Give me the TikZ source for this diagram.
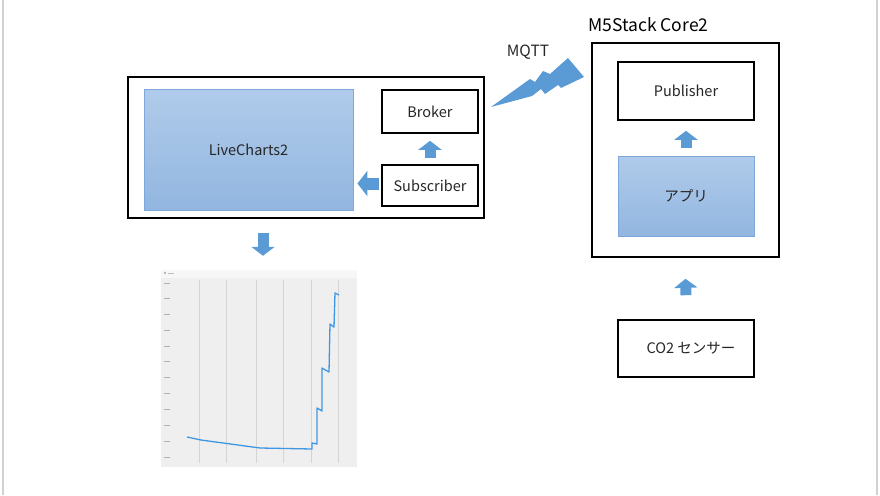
\documentclass[tikz,border=0pt]{standalone}
\usepackage{fontspec}
\setmainfont{Noto Sans CJK JP}
\usetikzlibrary{arrows.meta,calc,positioning}
\definecolor{topblue}{HTML}{B0CBEA}
\definecolor{botblue}{HTML}{92B6E0}
\definecolor{edgeblue}{HTML}{7EA8DA}
\definecolor{arrowblue}{HTML}{5B9BD5}
\definecolor{lineblue}{HTML}{3F97E2}
\definecolor{chartbg}{HTML}{EFEFEF}
\begin{document}
\begin{tikzpicture}[x=1pt,y=-1pt,>=Stealth,
  box/.style={draw=black,line width=1.6pt,fill=white,inner sep=0pt},
  appbox/.style={draw=edgeblue,line width=0.8pt,top color=topblue,bottom color=botblue,inner sep=0pt},
  blk/.style={arrowblue,line width=11pt,-{Triangle[length=9pt,width=23pt]}},
  lbl/.style={font=\fontsize{14.5}{16}\selectfont,text=black!85}]
\useasboundingbox (0,0) rectangle (880,495);
\draw[black!18,line width=1.5pt] (3,0)--(3,495) (877,0)--(877,495);
% PC side
\node[box,minimum width=356pt,minimum height=141pt] (outer) at (306,147.5) {};
\node[appbox,lbl,minimum width=209pt,minimum height=121pt] (live) at (248.5,149.5) {LiveCharts2};
\node[box,lbl,minimum width=96pt,minimum height=43pt] (broker) at (430,111.5) {\raisebox{-5pt}{Broker}};
\node[box,lbl,minimum width=96pt,minimum height=41pt] (sub) at (430,185.5) {Subscriber};
\draw[blk] ($(sub.north)+(0,-6)$)--($(broker.south)+(0,7)$);
\draw[blk,line width=12pt,-{Triangle[length=10pt,width=25pt]}] ($(sub.west)+(-2,-2)$)--($(sub.west -| live.east)+(4,-2)$);
% M5Stack side
\node[box,minimum width=187pt,minimum height=214pt] (m5) at (685.5,150) {};
\node[font=\fontsize{17.5}{19}\selectfont,above=7pt of m5.north,xshift=-37pt] (m5name) {M5Stack Core2};
\node[box,lbl,minimum width=136pt,minimum height=58pt] (pub) at (686,91) {\raisebox{-3pt}{Publisher}};
\node[appbox,lbl,minimum width=136pt,minimum height=80pt] (app) at (686,196) {\raisebox{-2pt}{アプリ}};
\draw[blk] ($(app.north)+(0,-8)$)--($(pub.south)+(0,10)$);
\node[box,lbl,minimum width=136pt,minimum height=57pt] (sensor) at (686,348.5) {\raisebox{-3pt}{\hspace{10pt}CO2 センサー}};
\draw[blk] ($(sensor.north)+(0,-24)$)--($(m5.south)+(0,21)$);
% MQTT link
\node[lbl,font=\fontsize{15.5}{17}\selectfont] (mqtt) at (528,52) {MQTT};
\fill[arrowblue] (491,107)--(530,79)--(535,82)--(543,71)--(550,74)--(568,58)--(584,77)
  --(561,88)--(558,85)--(545,94)--(541,89)--(532,96)--cycle;
% chart screenshot
\node[fill=chartbg,minimum width=196pt,minimum height=197pt,inner sep=0pt] (chart) at (259,368.5) {};
\fill[black!3] (chart.north west) rectangle ($(chart.north east)+(0,8)$);
\fill[black!35] (165,273) circle(1.2pt);
\draw[black!25,line width=0.5pt] (168,273)--(174,273);
\foreach \gx in {199,226,256,283,311,338}
  \draw[black!17,line width=0.6pt] (\gx,280)--(\gx,463);
\foreach \gy in {283,298,314,330,346,361,377,393,409,425,441,457}
  \draw[black!30,line width=0.8pt] (164,\gy)--(170,\gy);
\draw[lineblue,line width=1.3pt,line join=round] (187,437)--(201,440)--(260,448)--(312,449)--(312,443)--(317,444)
  --(317,408)--(322,411)--(322,368)--(329,372)--(330,324)--(334,327)--(335,293)--(339,295);
\draw[blk] ($(outer.south)+(-43,14)$)--($(chart.north)+(4,-14)$);
\end{tikzpicture}
\end{document}
